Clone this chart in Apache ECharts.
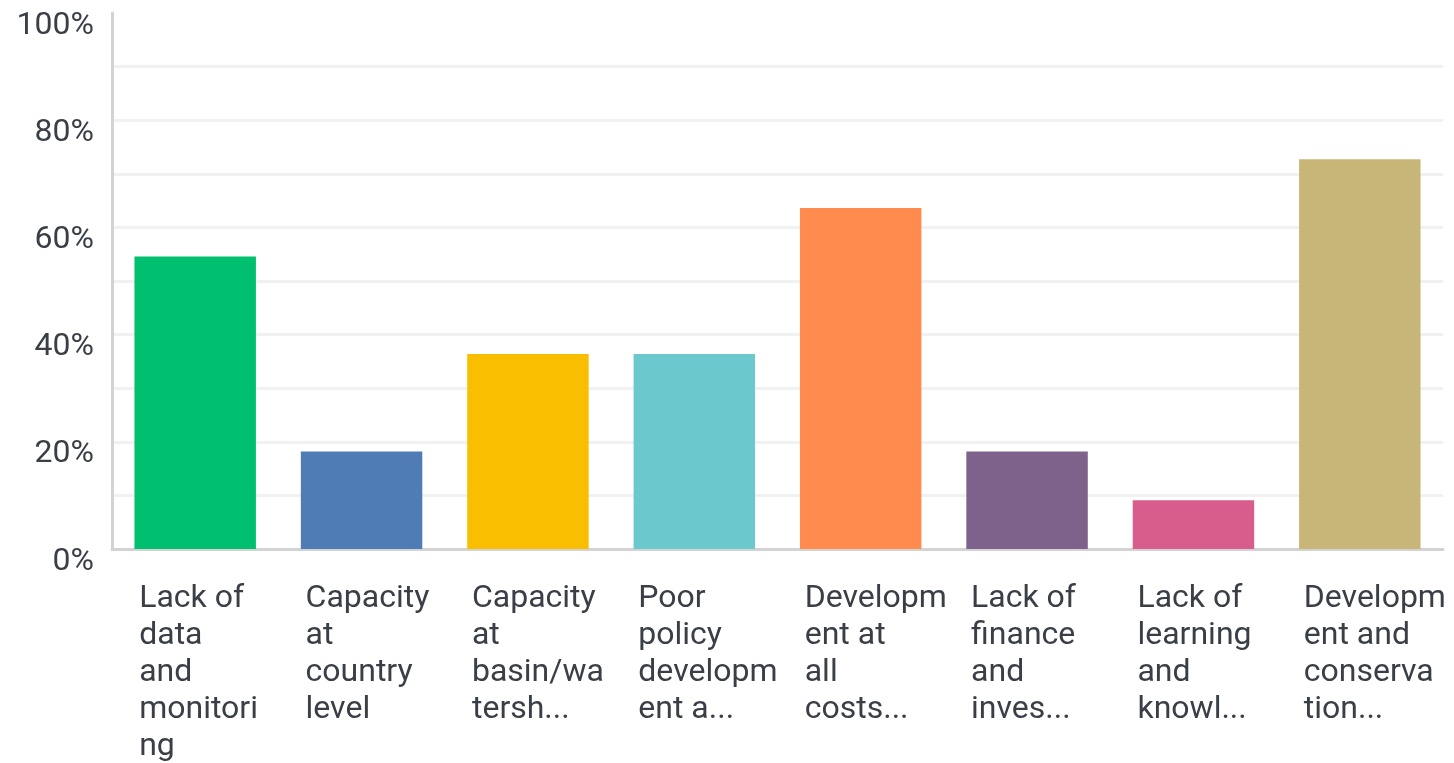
<!DOCTYPE html>
<html>
<head>
<meta charset="utf-8">
<script src="https://cdn.jsdelivr.net/npm/echarts@6/dist/echarts.min.js"></script>
<style>
  html, body { margin: 0; padding: 0; background: #ffffff; }
  #chart { width: 1454px; height: 763px; }
</style>
</head>
<body>
<div id="chart"></div>
<script>
// Answer categories, already wrapped and truncated the way the survey tool shows them
const categories = [
  'Lack of\ndata\nand\nmonitori\nng',
  'Capacity\nat\ncountry\nlevel',
  'Capacity\nat\nbasin/wa\ntersh...',
  'Poor\npolicy\ndevelopm\nent a...',
  'Developm\nent at\nall\ncosts...',
  'Lack of\nfinance\nand\ninves...',
  'Lack of\nlearning\nand\nknowl...',
  'Developm\nent and\nconserva\ntion...'
];

// Share of respondents choosing each answer (%)
const percentages = [54.55, 18.18, 36.36, 36.36, 63.64, 18.18, 9.09, 72.73];

// One colour per answer
const barColors = ['#00BF6F', '#507CB6', '#F9BE00', '#6BC8CD', '#FF8B4F', '#7F628B', '#D85C8C', '#C8B679'];

// Y axis: ticks every 10 %, labels only every 20 %
const yTickLabels = ['0%', '20%', '40%', '60%', '80%', '100%'];

const chart = echarts.init(document.getElementById('chart'), null, { renderer: 'canvas' });

const textColor = '#3a3f47';
const fontFamily = 'Roboto, "Liberation Sans", sans-serif';

chart.setOption({
  animation: false,
  backgroundColor: '#ffffff',
  grid: { left: 112, right: 11, top: 13, bottom: 214, containLabel: false },
  xAxis: {
    type: 'category',
    data: categories,
    axisLine: { show: true, lineStyle: { color: '#d3d3d3', width: 3 } },
    axisTick: { show: false },
    axisLabel: {
      interval: 0,
      margin: 31,
      align: 'center',
      formatter: function (value) {
        return value.split('\n').map(function (l) { return '{t|' + l + '}'; }).join('\n');
      },
      rich: {
        t: {
          width: 112,
          align: 'left',
          color: textColor,
          fontFamily: fontFamily,
          fontSize: 32,
          lineHeight: 37
        }
      }
    }
  },
  yAxis: {
    type: 'value',
    min: 0,
    max: 100,
    interval: 10,
    axisLine: { show: true, lineStyle: { color: '#d3d3d3', width: 3 } },
    axisTick: { show: false },
    splitLine: { show: true, showMinLine: false, showMaxLine: false, lineStyle: { color: '#f0f1f1', width: 3 } },
    axisLabel: {
      margin: 18,
      color: textColor,
      fontFamily: fontFamily,
      fontSize: 32,
      verticalAlign: 'top',
      lineHeight: 25,
      formatter: function (v) {
        const i = yTickLabels.indexOf(v + '%');
        return i >= 0 ? yTickLabels[i] : '';
      }
    }
  },
  series: [{
    type: 'bar',
    data: percentages.map(function (v, i) {
      return { value: v, itemStyle: { color: barColors[i] } };
    }),
    barCategoryGap: '27%'
  }]
});
</script>
</body>
</html>
